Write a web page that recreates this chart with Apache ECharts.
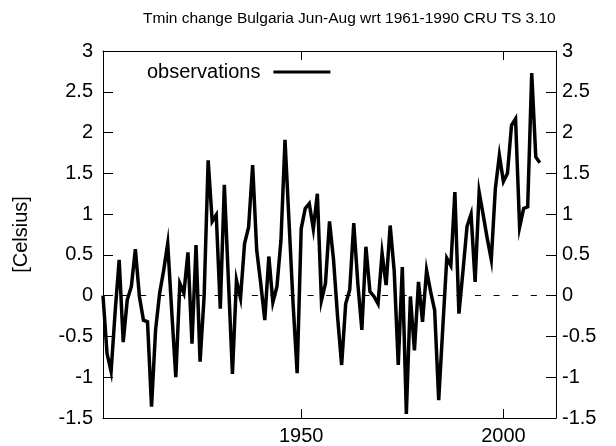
<!DOCTYPE html>
<html>
<head>
<meta charset="utf-8">
<script src="https://cdn.jsdelivr.net/npm/echarts@6/dist/echarts.min.js"></script>
<style>
html,body{margin:0;padding:0;background:#fff;}
#chart{width:616px;height:446px;}
</style>
</head>
<body>
<div id="chart"></div>
<script>
var titleText = 'Tmin change Bulgaria Jun-Aug wrt 1961-1990 CRU TS 3.10';
var seriesName = 'observations';
var yAxisName = '[Celsius]';
var firstYear = 1901;
var xTickValues = [1950, 2000];
// Tmin anomaly (°C), Jun-Aug, one value per year from 1901 to 2009
var observations = [
  0.00, -0.71, -0.93, -0.20, 0.44, -0.57, -0.05, 0.11, 0.57, -0.01,
  -0.30, -0.32, -1.36, -0.42, 0.03, 0.31, 0.64, -0.20, -1.00, 0.15,
  0.03, 0.53, -0.59, 0.62, -0.81, -0.01, 1.66, 0.91, 0.99, -0.16,
  1.36, 0.20, -0.96, 0.19, -0.03, 0.64, 0.84, 1.60, 0.56, 0.15,
  -0.30, 0.48, -0.08, 0.11, 0.68, 1.91, 0.90, -0.10, -0.95, 0.82,
  1.07, 1.13, 0.82, 1.25, -0.06, 0.15, 0.91, 0.44, -0.26, -0.85,
  -0.10, 0.07, 0.89, 0.15, -0.42, 0.60, 0.05, -0.01, -0.10, 0.52,
  0.13, 0.86, 0.30, -0.85, 0.35, -1.45, -0.01, -0.67, 0.17, -0.32,
  0.31, 0.05, -0.18, -1.28, -0.40, 0.46, 0.37, 1.27, -0.22, 0.30,
  0.85, 1.00, 0.17, 1.27, 0.99, 0.70, 0.44, 1.31, 1.72, 1.40,
  1.50, 2.09, 2.17, 0.84, 1.07, 1.09, 2.73, 1.70, 1.63
];

var points = observations.map(function (v, i) { return [firstYear + i, v]; });

var FONT = '"Liberation Sans", Arial, Helvetica, sans-serif';
var chart = echarts.init(document.getElementById('chart'), null, {renderer: 'canvas'});

var axisLineStyle = {color: '#000', width: 1};
function plain(v) { return String(v); }

chart.setOption({
  animation: false,
  backgroundColor: '#fff',
  textStyle: {fontFamily: FONT},
  title: {
    text: titleText,
    left: 138,
    top: 6,
    textStyle: {fontFamily: FONT, fontSize: 15.5, fontWeight: 'normal', color: '#000'}
  },
  legend: {
    data: [seriesName],
    left: 142,
    top: 57,
    align: 'right',
    icon: 'rect',
    itemWidth: 57,
    itemHeight: 3,
    itemStyle: {color: '#000'},
    textStyle: {fontFamily: FONT, fontSize: 20, color: '#000', padding: [0, 8, 0, 0]}
  },
  grid: {left: 103, right: 60, top: 51, bottom: 28, containLabel: false},
  xAxis: [
    {
      type: 'value', position: 'bottom', min: 1901, max: 2013,
      splitLine: {show: false},
      axisLine: {show: true, onZero: false, lineStyle: axisLineStyle},
      axisTick: {show: true, inside: true, length: 9, customValues: xTickValues, lineStyle: axisLineStyle},
      axisLabel: {show: true, margin: 8, fontSize: 20, color: '#000', fontFamily: FONT, customValues: xTickValues, formatter: plain}
    },
    {
      type: 'value', position: 'top', min: 1901, max: 2013,
      splitLine: {show: false},
      axisLine: {show: true, onZero: false, lineStyle: axisLineStyle},
      axisTick: {show: true, inside: true, length: 9, customValues: xTickValues, lineStyle: axisLineStyle},
      axisLabel: {show: false}
    }
  ],
  yAxis: [
    {
      type: 'value', position: 'left', min: -1.5, max: 3, interval: 0.5,
      name: yAxisName, nameLocation: 'middle', nameGap: 72, nameRotate: 90,
      nameTextStyle: {fontFamily: FONT, fontSize: 20, color: '#000'},
      splitLine: {show: false},
      axisLine: {show: true, onZero: false, lineStyle: axisLineStyle},
      axisTick: {show: true, inside: true, length: 10, lineStyle: axisLineStyle},
      axisLabel: {show: true, margin: 10, fontSize: 20, color: '#000', fontFamily: FONT, formatter: plain}
    },
    {
      type: 'value', position: 'right', min: -1.5, max: 3, interval: 0.5,
      splitLine: {show: false},
      axisLine: {show: true, onZero: false, lineStyle: axisLineStyle},
      axisTick: {show: true, inside: true, length: 10, lineStyle: axisLineStyle},
      axisLabel: {show: true, margin: 6, fontSize: 20, color: '#000', fontFamily: FONT, formatter: plain}
    }
  ],
  series: [
    {
      name: seriesName,
      type: 'line',
      xAxisIndex: 0,
      yAxisIndex: 0,
      data: points,
      symbol: 'none',
      showSymbol: false,
      lineStyle: {color: '#000', width: 3.5, join: 'miter'},
      itemStyle: {color: '#000'},
      z: 3,
      markLine: {
        silent: true,
        symbol: ['none', 'none'],
        label: {show: false},
        lineStyle: {color: '#000', width: 1, type: [6, 12.6]},
        data: [{yAxis: 0}],
        z: 1
      }
    }
  ]
});
</script>
</body>
</html>
